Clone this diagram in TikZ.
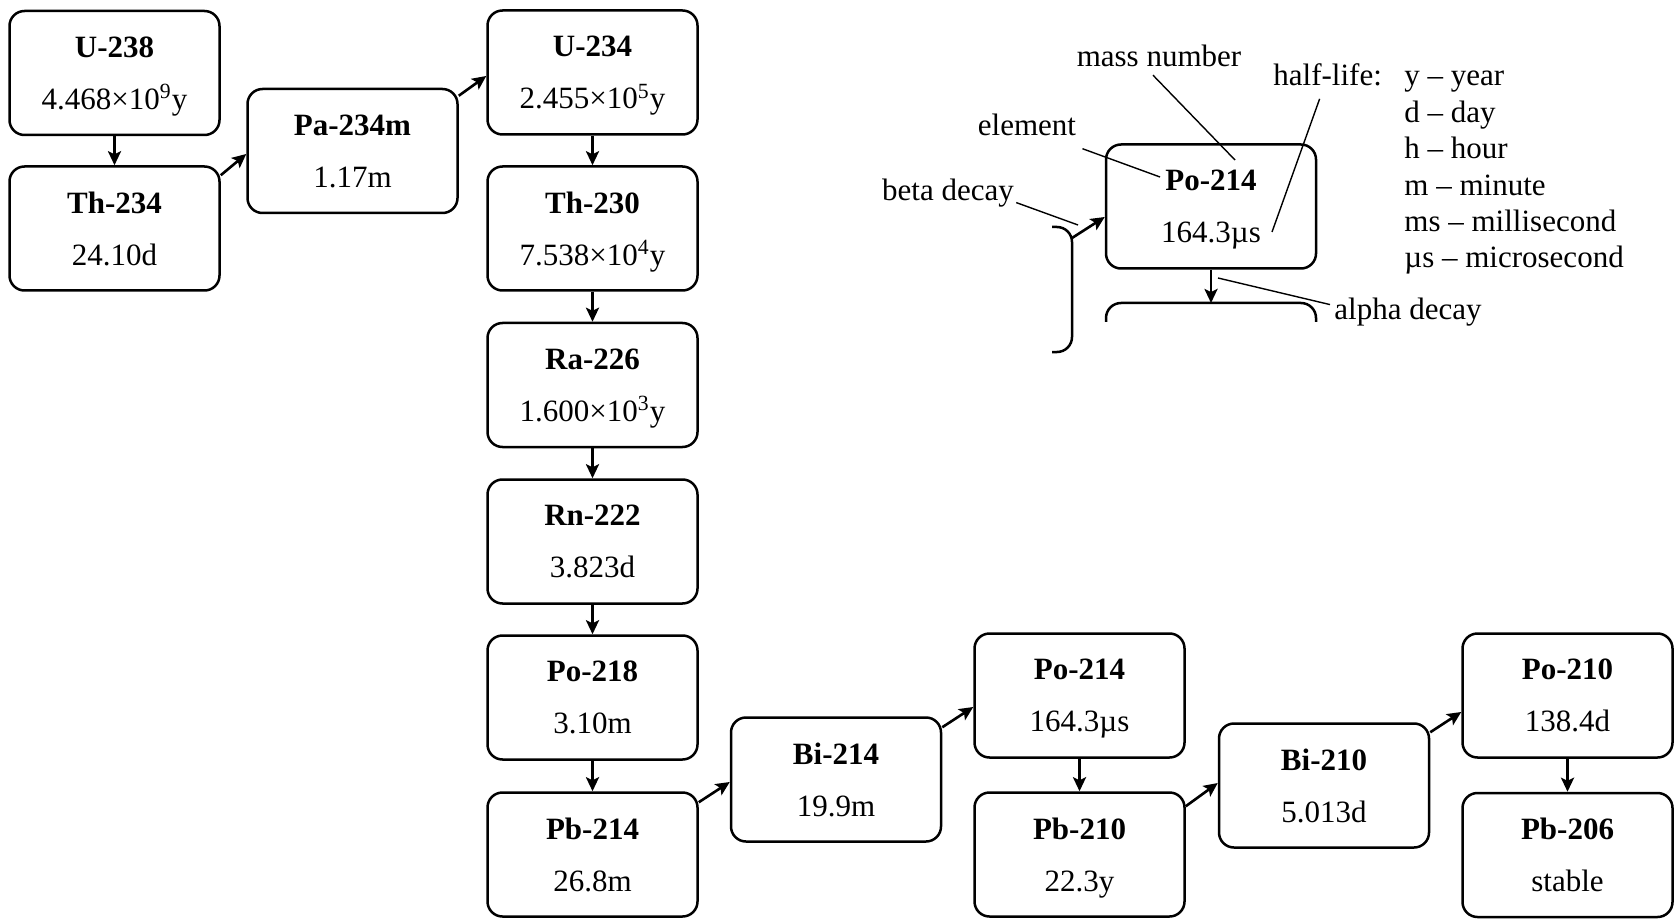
\documentclass[tikz,border=0pt]{standalone}
\usepackage{fontspec}
\setmainfont{Liberation Serif}
\usetikzlibrary{arrows.meta, positioning, calc}

\newcommand{\nucl}[2]{\textbf{#1}\\\raisebox{0pt}[\height][0pt]{#2}}

\begin{document}
\begin{tikzpicture}[x=0.5pt, y=-0.5pt,
		nuclide/.style={draw, line width=1.25pt, rounded corners=7.5pt, minimum width=105pt, minimum height=62pt, inner sep=0pt, align=center, font=\fontsize{15.5}{26}\selectfont},
		decay/.style={line width=1.3pt, -{Stealth[length=7pt, width=6.5pt, inset=1.5pt]}},
		callout/.style={line width=0.7pt},
		tag/.style={inner sep=0pt, font=\fontsize{15.5}{18.2}\selectfont}]
		\useasboundingbox (0,0) rectangle (1679,919);

		% decay chain
		\node[nuclide] (u238) at (114.5,73) {\nucl{U-238}{4.468×10\textsuperscript{9}y}};
		\node[nuclide] (th234) at (114.5,228.5) {\nucl{Th-234}{24.10d}};
		\node[nuclide] (pa234m) at (352.5,151) {\nucl{Pa-234m}{1.17m}};
		\node[nuclide] (u234) at (592.5,72.5) {\nucl{U-234}{2.455×10\textsuperscript{5}y}};
		\node[nuclide] (th230) at (592.5,228.5) {\nucl{Th-230}{7.538×10\textsuperscript{4}y}};
		\node[nuclide] (ra226) at (592.5,385) {\nucl{Ra-226}{1.600×10\textsuperscript{3}y}};
		\node[nuclide] (rn222) at (592.5,541.5) {\nucl{Rn-222}{3.823d}};
		\node[nuclide] (po218) at (592.5,697.5) {\nucl{Po-218}{3.10m}};
		\node[nuclide] (pb214) at (592.5,854.5) {\nucl{Pb-214}{26.8m}};
		\node[nuclide] (bi214) at (836,779.5) {\nucl{Bi-214}{19.9m}};
		\node[nuclide] (po214) at (1079.5,695.5) {\nucl{Po-214}{164.3µs}};
		\node[nuclide] (pb210) at (1079.5,854.5) {\nucl{Pb-210}{22.3y}};
		\node[nuclide] (bi210) at (1324,785.5) {\nucl{Bi-210}{5.013d}};
		\node[nuclide] (po210) at (1567.5,695.5) {\nucl{Po-210}{138.4d}};
		\node[nuclide] (pb206) at (1567.5,855) {\nucl{Pb-206}{stable}};

		% alpha decays
		\draw[decay] (u238) -- (th234);
		\draw[decay] (u234) -- (th230);
		\draw[decay] (th230) -- (ra226);
		\draw[decay] (ra226) -- (rn222);
		\draw[decay] (rn222) -- (po218);
		\draw[decay] (po218) -- (pb214);
		\draw[decay] (po214) -- (pb210);
		\draw[decay] (po210) -- (pb206);

		% beta decays
		\draw[decay] ([yshift=-5pt]th234.north east) -- ([yshift=-1.5pt]pa234m.west);
		\draw[decay] ([yshift=-4pt]pa234m.north east) -- ([yshift=-1.75pt]u234.west);
		\draw[decay] ([yshift=-5.5pt]pb214.north east) -- ([yshift=-1.25pt]bi214.west);
		\draw[decay] ([yshift=-5.5pt]bi214.north east) -- ([yshift=-5.75pt]po214.west);
		\draw[decay] ([yshift=-7.5pt]pb210.north east) -- ([yshift=1.25pt]bi210.west);
		\draw[decay] ([yshift=-5pt]bi210.north east) -- ([yshift=-8.25pt]po210.west);

		% key
		\node[nuclide] (key) at (1211,206.5) {\nucl{Po-214}{164.3µs}};
		\draw[line width=1.25pt, rounded corners=7.5pt] (1052,227) -- (1072,227) -- (1072,352) -- (1052,352);
		\draw[line width=1.25pt, rounded corners=7.5pt] (1106,322) -- (1106,303) -- (1316,303) -- (1316,322);
		\coordinate (prev) at (1072,238);
		\coordinate (next) at (1211,303);
		\draw[decay] (prev) -- ([yshift=-5.25pt]key.west);
		\draw[decay] (key) -- (next);

		\node[tag, anchor=base] (mass) at (1159,66.5) {mass number};
		\node[tag, anchor=base] (element) at (1027,136) {element};
		\node[tag, anchor=base] (beta) at (948,201) {beta decay};
		\node[tag, anchor=base west] (halflife) at (1273,86) {half-life:};
		\node[tag, anchor=base west] (units) at (1404,86) {\begin{tabular}[t]{@{}l@{}}
			y -- year\\
			d -- day\\
			h -- hour\\
			m -- minute\\
			ms -- millisecond\\
			µs -- microsecond
		\end{tabular}};
		\node[tag, anchor=base west] (alpha) at (1334,320) {alpha decay};

		\coordinate (massto) at (1235,160);
		\coordinate (elemto) at (1160,177);
		\coordinate (betato) at (1078,225);
		\coordinate (halfto) at (1272,232);
		\coordinate (alphato) at (1218,278);
		\draw[callout] ([xshift=-3pt, yshift=-4pt]mass.south) -- (massto);
		\draw[callout] ([xshift=3pt, yshift=-6pt]element.south east) -- (elemto);
		\draw[callout] ([xshift=1pt, yshift=-4.5pt]beta.east) -- (betato);
		\draw[callout] ([xshift=-4pt, yshift=-6pt]halflife.south) -- (halfto);
		\draw[callout] ([xshift=-2pt, yshift=4pt]alpha.west) -- (alphato);
	\end{tikzpicture}
\end{document}
